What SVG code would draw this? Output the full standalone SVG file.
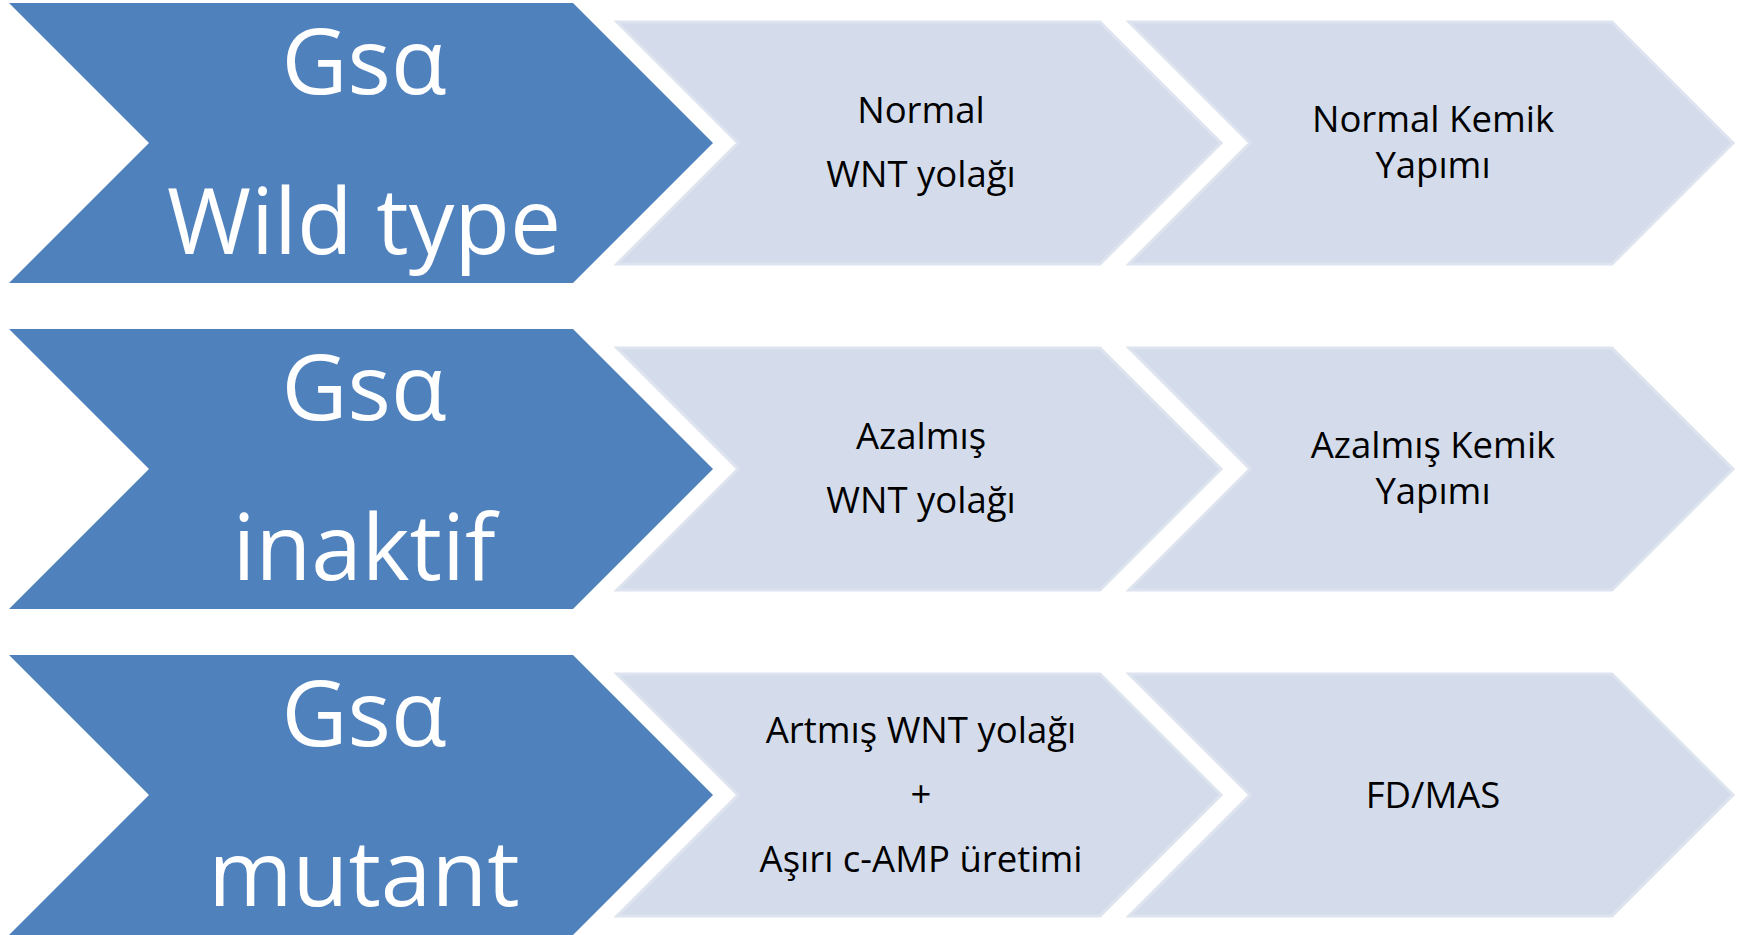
<svg xmlns="http://www.w3.org/2000/svg" width="1746" height="935" viewBox="0 0 1746 935">
<style>
.blue{fill:#4F81BD;}
.light{fill:#D4DCEB;stroke:#DEE4EF;stroke-width:3;}
.big{font-family:"Open Sans","Liberation Sans",sans-serif;font-size:91px;fill:#FFFFFF;text-anchor:middle;}
.small{font-family:"Open Sans","Liberation Sans",sans-serif;font-size:36.5px;fill:#000000;text-anchor:middle;}
</style>
<rect x="0" y="0" width="1746" height="935" fill="#FFFFFF"/>
<defs>
<polygon id="bchev" points="9,0 573,0 713,140 573,280 9,280 149,140"/>
<polygon id="lchev" points="0,0 483,0 604,121 483,242 0,242 121,121"/>
</defs>
<g id="connectors"></g>
<!-- Row 1 -->
<g id="row1-gsa">
<use href="#bchev" class="blue" x="0" y="3"/>
<text class="big" x="364" y="94">Gsα</text>
<text class="big" x="364" y="253.5">Wild type</text>
</g>
<g id="row1-wnt">
<use href="#lchev" class="light" x="617" y="22"/>
<text class="small" x="921" y="123.3">Normal</text>
<text class="small" x="921" y="186.7">WNT yolağı</text>
</g>
<g id="row1-kemik">
<use href="#lchev" class="light" x="1129" y="22"/>
<text class="small" x="1433" y="132">Normal Kemik</text>
<text class="small" x="1433" y="178">Yapımı</text>
</g>
<!-- Row 2 -->
<g id="row2-gsa">
<use href="#bchev" class="blue" x="0" y="329"/>
<text class="big" x="364" y="419.5">Gsα</text>
<text class="big" x="364" y="579.5">inaktif</text>
</g>
<g id="row2-wnt">
<use href="#lchev" class="light" x="617" y="348"/>
<text class="small" x="921" y="449.3">Azalmış</text>
<text class="small" x="921" y="512.7">WNT yolağı</text>
</g>
<g id="row2-kemik">
<use href="#lchev" class="light" x="1129" y="348"/>
<text class="small" x="1433" y="458">Azalmış Kemik</text>
<text class="small" x="1433" y="504">Yapımı</text>
</g>
<!-- Row 3 -->
<g id="row3-gsa">
<use href="#bchev" class="blue" x="0" y="655"/>
<text class="big" x="364" y="745.5">Gsα</text>
<text class="big" x="364" y="905.5">mutant</text>
</g>
<g id="row3-wnt">
<use href="#lchev" class="light" x="617" y="674"/>
<text class="small" x="921" y="743">Artmış WNT yolağı</text>
<text class="small" x="921" y="807">+</text>
<text class="small" x="921" y="871.5">Aşırı c-AMP üretimi</text>
</g>
<g id="row3-fdmas">
<use href="#lchev" class="light" x="1129" y="674"/>
<text class="small" x="1433" y="808.3">FD/MAS</text>
</g>
</svg>
